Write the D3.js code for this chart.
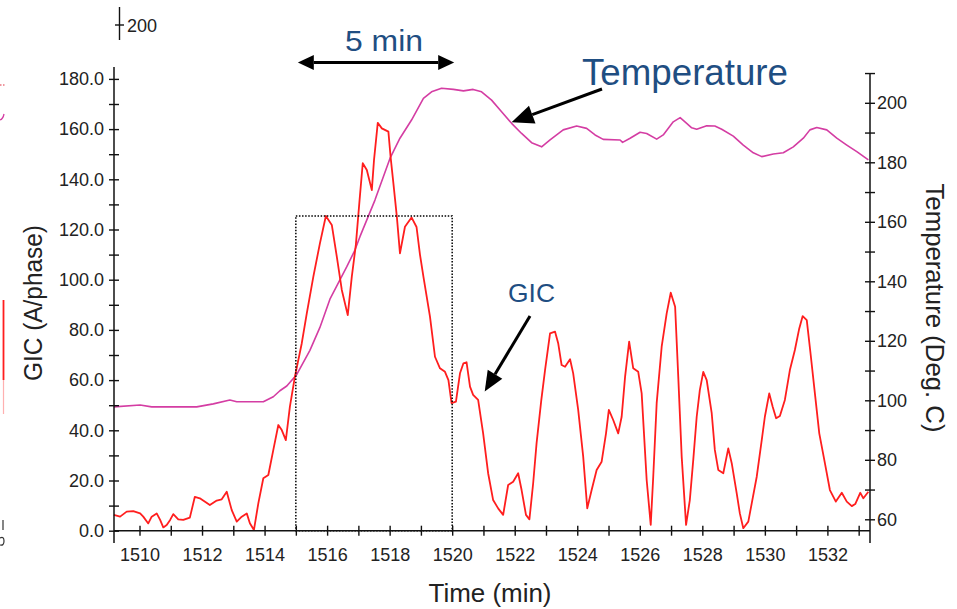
<!DOCTYPE html>
<html><head><meta charset="utf-8">
<script src="https://cdn.jsdelivr.net/npm/d3@7"></script>
<style>
body{margin:0;background:#fff;}
svg{display:block;font-family:"Liberation Sans",Arial,sans-serif;}
</style>
</head><body>
<svg id="c" width="957" height="609"></svg>
<script>
// ---------------- data ----------------
const gicTime = [1509.18,1509.38,1509.59,1509.80,1510.02,1510.12,1510.28,1510.39,1510.55,1510.66,1510.76,1510.87,1510.98,1511.08,1511.24,1511.40,1511.61,1511.77,1511.93,1512.25,1512.47,1512.63,1512.79,1512.95,1513.11,1513.27,1513.43,1513.53,1513.66,1513.80,1513.96,1514.12,1514.28,1514.44,1514.55,1514.68,1514.81,1514.97,1515.19,1515.35,1515.56,1515.77,1515.96,1516.15,1516.31,1516.47,1516.66,1516.79,1516.92,1517.04,1517.14,1517.27,1517.43,1517.50,1517.62,1517.75,1517.96,1518.03,1518.12,1518.23,1518.33,1518.49,1518.70,1518.86,1518.97,1519.08,1519.29,1519.45,1519.61,1519.77,1519.88,1519.98,1520.12,1520.25,1520.36,1520.46,1520.57,1520.67,1520.83,1520.99,1521.15,1521.31,1521.47,1521.63,1521.79,1521.95,1522.11,1522.22,1522.36,1522.47,1522.59,1522.70,1522.85,1522.97,1523.13,1523.29,1523.39,1523.50,1523.61,1523.77,1523.87,1524.03,1524.19,1524.32,1524.46,1524.62,1524.78,1524.92,1525.01,1525.15,1525.31,1525.42,1525.53,1525.66,1525.79,1525.95,1526.06,1526.22,1526.35,1526.43,1526.54,1526.70,1526.86,1526.99,1527.13,1527.23,1527.34,1527.48,1527.60,1527.71,1527.82,1527.92,1528.03,1528.14,1528.30,1528.40,1528.51,1528.67,1528.83,1528.94,1529.10,1529.20,1529.31,1529.47,1529.58,1529.74,1529.90,1530.00,1530.14,1530.25,1530.36,1530.48,1530.64,1530.80,1530.96,1531.10,1531.21,1531.34,1531.46,1531.60,1531.74,1531.92,1532.08,1532.27,1532.46,1532.62,1532.78,1532.89,1533.05,1533.15,1533.31];
const gicValue = [6.3,5.6,7.6,7.8,6.9,5.6,2.9,5.6,6.9,4.3,1.3,2.3,4.3,6.6,4.5,4.3,5.2,13.5,12.9,10.2,12.0,12.5,15.5,8.2,3.6,5.6,6.9,3.0,0.3,10.9,20.9,22.2,32.2,42.1,40.1,36.1,49.4,61.4,74.7,86.6,101.2,114.5,125.4,121.8,109.2,95.9,85.9,101.2,114,132,146.4,143.7,135.7,147.7,162.5,160.3,159.0,149.0,138.4,125.1,110.5,121.1,124.8,121.0,110.0,101.2,85.3,69.3,64.7,63.3,60.0,50.8,51.4,62.7,66.7,67.1,57.4,54.1,52.1,38.8,22.9,12.2,8.9,6.3,18.2,19.5,22.9,16.2,6.3,4.5,18.9,35,52,64.0,78.6,79.3,74.7,66.0,65.3,68.3,62.7,48.1,29.5,8.9,16.2,24.2,27.5,38.8,48.1,44.1,38.8,45.4,61.4,75.3,64.7,63.3,54.7,20.2,2.3,21.5,50.8,73.3,86.6,94.8,89.2,61.4,29.5,2.3,12.2,28.2,45.4,56.0,63.3,60.0,46.8,32.2,24.2,22.9,32.8,26.9,14.9,6.9,1.0,3.6,10.9,21.5,36.1,45.4,54.7,49.4,44.8,45.7,52.1,64.0,72.0,80.6,85.5,83.9,70.7,54.7,38.8,26.9,16.2,11.6,15.1,11.6,9.8,10.6,15.1,12.9,15.5];

const tempTime = [1509.18,1510.02,1510.39,1511.83,1512.36,1512.89,1513.11,1513.96,1514.28,1514.49,1514.71,1515.03,1515.45,1515.77,1516.09,1516.63,1516.89,1517.05,1517.53,1518.01,1518.33,1518.70,1519.08,1519.34,1519.66,1520.04,1520.36,1520.67,1520.94,1521.26,1521.58,1521.90,1522.22,1522.54,1522.86,1523.13,1523.55,1523.98,1524.30,1524.57,1524.83,1525.37,1525.45,1525.69,1526.01,1526.22,1526.54,1526.75,1527.07,1527.29,1527.50,1527.66,1527.82,1528.14,1528.40,1528.62,1528.99,1529.31,1529.63,1529.90,1530.27,1530.59,1530.91,1531.23,1531.44,1531.66,1531.98,1532.30,1532.62,1532.94,1533.31];
const tempValue = [97.8,98.4,97.8,97.8,98.8,100.1,99.5,99.5,101.2,103.2,104.8,108.7,116.8,124.5,134.0,144.9,150.5,155.0,167.3,181.3,188.1,194.2,201.5,203.7,204.9,204.5,204.0,204.5,203.7,200.9,197.0,193.1,189.7,186.6,185.2,187.5,190.9,192.2,191.4,189.2,187.7,187.5,186.7,188.1,190.1,189.7,187.8,189.2,193.6,195.0,193.1,191.6,191.1,192.3,192.2,191.1,188.8,185.8,183.2,181.9,182.8,183.2,185.2,188.1,190.9,191.7,190.9,188.1,185.8,183.6,180.8];

const timeTicks = [1510,1511,1512,1513,1514,1515,1516,1517,1518,1519,1520,1521,1522,1523,1524,1525,1526,1527,1528,1529,1530,1531,1532,1533];
const gicTicks = [0,10,20,30,40,50,60,70,80,90,100,110,120,130,140,150,160,170,180];
const tempTicks = [60,70,80,90,100,110,120,130,140,150,160,170,180,190,200,210];
const windowStart = 1515, windowEnd = 1520, windowTop = 125.4;

// ---------------- scales ----------------
const svg = d3.select("#c");
const x = d3.scaleLinear().domain([1510, 1532]).range([139.5, 827.4]);
const yL = d3.scaleLinear().domain([0, 180]).range([530.7, 78.9]);
const yR = d3.scaleLinear().domain([60, 200]).range([519.3, 102.8]);
const X0 = 114, X1 = 870, YB = yL(0);

const AX = "#111";
const TXT = "#222";
const BLUE = "#1f4e82";

// ---------------- series ----------------
const tempLine = d3.line().x((d,i)=>x(tempTime[i])).y(d=>yR(d));
svg.append("path").attr("d", tempLine(tempValue))
  .attr("fill","none").attr("stroke","#d43da3").attr("stroke-width",1.6).attr("stroke-linejoin","round");

const gicLine = d3.line().x((d,i)=>x(gicTime[i])).y(d=>yL(d));
svg.append("path").attr("d", gicLine(gicValue))
  .attr("fill","none").attr("stroke","#ff1e1e").attr("stroke-width",1.8).attr("stroke-linejoin","round");

// dotted 5-minute window
svg.append("rect")
  .attr("x", x(windowStart)).attr("y", yL(windowTop))
  .attr("width", x(windowEnd)-x(windowStart)).attr("height", YB - yL(windowTop))
  .attr("fill","none").attr("stroke","#000").attr("stroke-width",1.5).attr("stroke-dasharray","1.5,1.6");

// ---------------- axes ----------------
function crossTicks(g, vertical){
  g.select(".domain").remove();
  g.selectAll(".tick line").attr("stroke",AX).attr("stroke-width",1.4)
    .each(function(){
      const s = d3.select(this);
      if(vertical){ s.attr("x1",-5).attr("x2",5); } else { s.attr("y1",-5).attr("y2",5); }
    });
  g.selectAll(".tick text").attr("fill",TXT).style("font-size","18px")
    .style("font-family",'"Liberation Sans",Arial,sans-serif');
}

const gx = svg.append("g").attr("transform",`translate(0,${YB})`)
  .call(d3.axisBottom(x).tickValues(timeTicks).tickSize(5).tickPadding(13)
    .tickFormat(d => d % 2 === 0 ? String(d) : ""));
crossTicks(gx,false);

const gl = svg.append("g").attr("transform",`translate(${X0},0)`)
  .call(d3.axisLeft(yL).tickValues(gicTicks).tickSize(5).tickPadding(5)
    .tickFormat(d => d % 20 === 0 ? d.toFixed(1) : ""));
crossTicks(gl,true);

const gr = svg.append("g").attr("transform",`translate(${X1},0)`)
  .call(d3.axisRight(yR).tickValues(tempTicks).tickSize(5).tickPadding(2)
    .tickFormat(d => (d % 20 === 0 && d <= 200) ? String(d) : ""));
crossTicks(gr,true);

// axis lines
svg.append("line").attr("x1",X0).attr("x2",X1).attr("y1",YB).attr("y2",YB).attr("stroke",AX).attr("stroke-width",1.5);
svg.append("line").attr("x1",X0).attr("x2",X0).attr("y1",67).attr("y2",543).attr("stroke",AX).attr("stroke-width",1.5);
svg.append("line").attr("x1",X1).attr("x2",X1).attr("y1",yR(210)).attr("y2",543).attr("stroke",AX).attr("stroke-width",1.5);

// axis titles
svg.append("text").text("GIC (A/phase)")
  .attr("transform","translate(42,303) rotate(-90)")
  .attr("text-anchor","middle").attr("fill",TXT).style("font-size","26px")
  .attr("textLength",156).attr("lengthAdjust","spacingAndGlyphs");
svg.append("text").text("Temperature (Deg. C)")
  .attr("transform","translate(926,308) rotate(90)")
  .attr("text-anchor","middle").attr("fill",TXT).style("font-size","26px")
  .attr("textLength",249).attr("lengthAdjust","spacingAndGlyphs");
svg.append("text").text("Time (min)")
  .attr("x",490).attr("y",602)
  .attr("text-anchor","middle").attr("fill",TXT).style("font-size","26px")
  .attr("textLength",123).attr("lengthAdjust","spacingAndGlyphs");

// stray axis fragment at top-left
svg.append("line").attr("x1",119.5).attr("x2",119.5).attr("y1",7).attr("y2",40).attr("stroke",AX).attr("stroke-width",1.4);
svg.append("line").attr("x1",115).attr("x2",124).attr("y1",25).attr("y2",25).attr("stroke",AX).attr("stroke-width",1.4);
svg.append("text").text("200").attr("x",127).attr("y",31.5).attr("fill",TXT).style("font-size","18px");

// clipped fragments at the left edge
svg.append("path").attr("d","M0,85 L5,85").attr("stroke","#e03040").attr("stroke-width",1.2).attr("stroke-dasharray","1.5,1.5");
svg.append("path").attr("d","M0,120 Q3,119 4,114").attr("fill","none").attr("stroke","#d43da3").attr("stroke-width",1.3);
svg.append("line").attr("x1",3.5).attr("x2",3.5).attr("y1",300).attr("y2",380).attr("stroke","#ff1e1e").attr("stroke-width",1.8);
svg.append("line").attr("x1",3.5).attr("x2",3.5).attr("y1",380).attr("y2",414).attr("stroke","#ffb0b0").attr("stroke-width",1.2);
svg.append("line").attr("x1",3).attr("x2",3).attr("y1",520).attr("y2",530).attr("stroke","#333").attr("stroke-width",1.2);
svg.append("path").attr("d","M0,538 Q4,536 4,541 Q4,546 0,545").attr("fill","none").attr("stroke","#333").attr("stroke-width",1.2);

// ---------------- annotations ----------------
function arrowHead(tx,ty,fx,fy,len,half){
  const dx = tx-fx, dy = ty-fy, L = Math.hypot(dx,dy);
  const ux = dx/L, uy = dy/L;
  const bx = tx-ux*len, by = ty-uy*len;
  const pts = [[tx,ty],[bx-uy*half,by+ux*half],[bx+uy*half,by-ux*half]];
  svg.append("polygon").attr("points",pts.map(p=>p.join(",")).join(" ")).attr("fill","#000");
  return [bx,by];
}
function arrow(fx,fy,tx,ty,len,half,both){
  const b = arrowHead(tx,ty,fx,fy,len,half);
  let a = [fx,fy];
  if(both) a = arrowHead(fx,fy,tx,ty,len,half);
  svg.append("line").attr("x1",a[0]).attr("y1",a[1]).attr("x2",b[0]).attr("y2",b[1])
    .attr("stroke","#000").attr("stroke-width",3);
}

// 5 min double arrow
arrow(x(windowStart)+2, 62.5, x(windowEnd)+2, 62.5, 16, 7.5, true);
svg.append("text").text("5 min").attr("x",345).attr("y",51)
  .attr("fill",BLUE).style("font-size","29px")
  .attr("textLength",78).attr("lengthAdjust","spacingAndGlyphs");

// Temperature label + arrow
svg.append("text").text("Temperature").attr("x",582).attr("y",84.5)
  .attr("fill",BLUE).style("font-size","36px")
  .attr("textLength",206).attr("lengthAdjust","spacingAndGlyphs");
arrow(602, 89, x(1521.9), yR(193.5), 22, 9.5, false);

// GIC label + arrow
svg.append("text").text("GIC").attr("x",508).attr("y",302)
  .attr("fill",BLUE).style("font-size","26px")
  .attr("textLength",47).attr("lengthAdjust","spacingAndGlyphs");
arrow(530, 316, x(1521.04), yL(55.5), 20, 8.5, false);
</script>
</body></html>
